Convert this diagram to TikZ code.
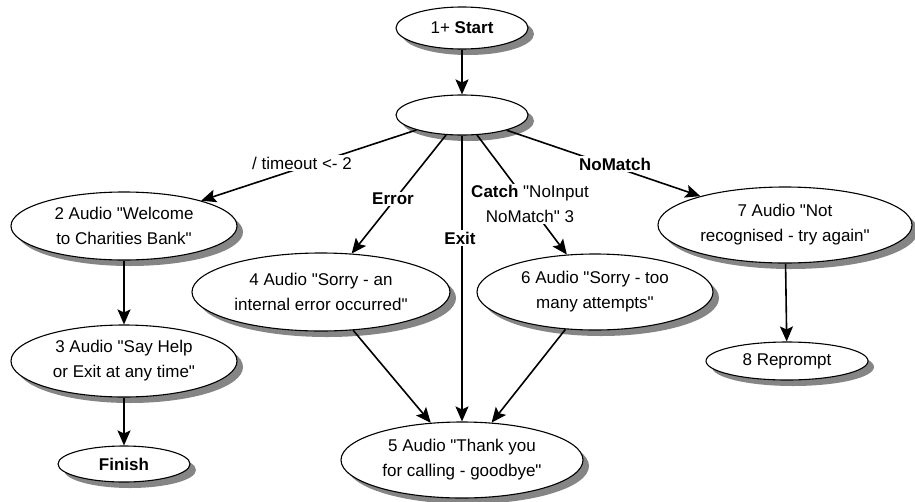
\documentclass[tikz,border=0pt]{standalone}
\usepackage{fontspec}
\setmainfont{Liberation Sans}[Ligatures=TeXOff]
\usetikzlibrary{shapes.geometric,arrows.meta}

\begin{document}
\begin{tikzpicture}[x=1pt,y=1pt,
  state/.style={ellipse,draw,line width=1.1pt,fill=white,inner sep=0pt,align=center,
    font=\fontsize{17}{25}\selectfont},
  arr/.style={line width=1.6pt,-{Stealth[length=15pt,width=13pt,inset=3pt]}},
  lbl/.style={fill=white,inner sep=1.5pt,align=center,font=\fontsize{17}{25}\selectfont}]

\useasboundingbox (0,-501) rectangle (915,0);

% shadows
\foreach \px/\py/\rx/\ry in {462/-28/66/21, 462/-115/66/20, 124/-226/113/34, 124/-361/113/36,
    124/-464/66/18, 321/-292/129/39, 462/-460/121/38, 595/-292/118/38, 785/-225/127/38, 787/-361/81/19}
  \fill[black!48] (\px+6,\py-6) ellipse ({\rx} and {\ry});

\node[state,minimum width=132pt,minimum height=42pt] (start) at (462,-28) {1+ \textbf{Start}};
\node[state,minimum width=132pt,minimum height=40pt] (hub) at (462,-115) {};

\node[state,minimum width=226pt,minimum height=68pt] (n2) at (124,-226) {2 Audio "Welcome\\to Charities Bank"};
\node[state,minimum width=226pt,minimum height=72pt] (n3) at (124,-361) {3 Audio "Say Help\\or Exit at any time"};
\node[state,minimum width=132pt,minimum height=36pt] (fin) at (124,-464) {\textbf{Finish}};

\node[state,minimum width=258pt,minimum height=78pt] (n4) at (321,-292) {4 Audio "Sorry - an\\internal error occurred"};
\node[state,minimum width=242pt,minimum height=76pt] (n5) at (462,-460) {5 Audio "Thank you\\for calling - goodbye"};
\node[state,minimum width=236pt,minimum height=76pt] (n6) at (595,-292) {6 Audio "Sorry - too\\many attempts"};

\node[state,minimum width=254pt,minimum height=76pt] (n7) at (785,-225) {7 Audio "Not\\recognised - try again"};
\node[state,minimum width=162pt,minimum height=38pt] (n8) at (787,-361) {8 Reprompt};

\draw[arr] (start) -- (hub);
\draw[arr] (hub) -- (n2);
\draw[arr] (hub) -- (n4);
\draw[arr] (hub) -- (n5);
\draw[arr] (hub) -- (n6);
\draw[arr] (hub) -- (n7);
\draw[arr] (n2) -- (n3);
\draw[arr] (n3) -- (fin);
\draw[arr] (n4) -- (n5);
\draw[arr] (n6) -- (n5);
\draw[arr] (n7) -- (n8);

\node[lbl] (ltime) at (302,-163) {/ timeout <- 2};
\node[lbl] (lerr) at (393,-199) {\textbf{Error}};
\node[lbl] (lexit) at (460,-238) {\textbf{Exit}};
\node[lbl] (lcatch) at (530,-204) {\textbf{Catch} "NoInput\\NoMatch" 3};
\node[lbl] (lnomatch) at (615,-164) {\textbf{NoMatch}};
\end{tikzpicture}
\end{document}
